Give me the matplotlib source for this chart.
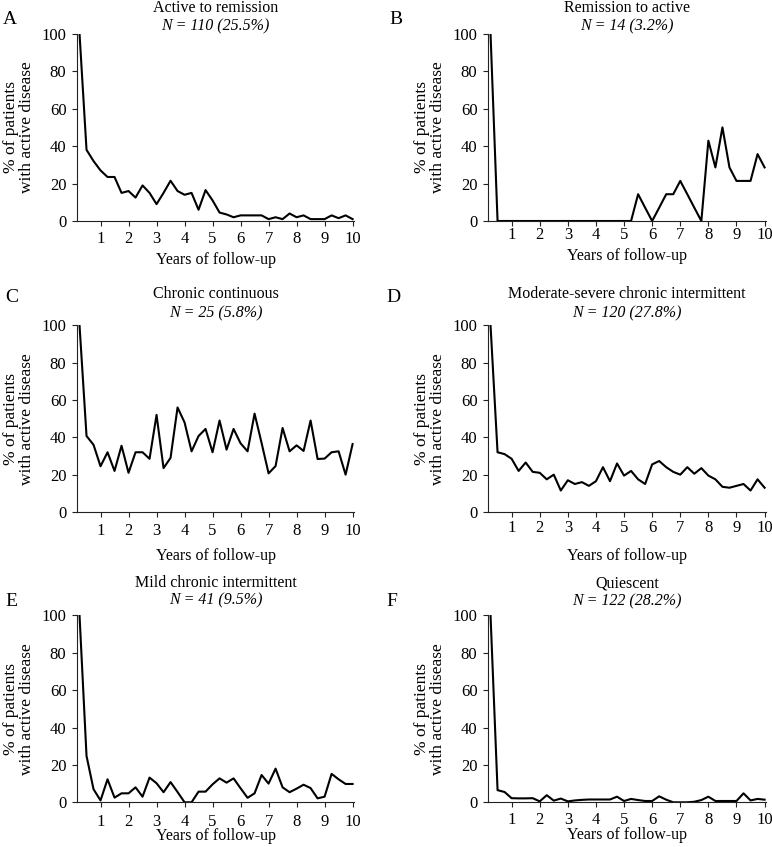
import matplotlib
matplotlib.use('Agg')
import matplotlib.pyplot as plt

plt.rcParams['font.family'] = ['Liberation Serif', 'DejaVu Serif']
plt.rcParams['font.size'] = 11

# follow-up time (years), quarterly visits
years = [0.25, 0.5, 0.75, 1.0, 1.25, 1.5, 1.75, 2.0, 2.25, 2.5,
         2.75, 3.0, 3.25, 3.5, 3.75, 4.0, 4.25, 4.5, 4.75, 5.0,
         5.25, 5.5, 5.75, 6.0, 6.25, 6.5, 6.75, 7.0, 7.25, 7.5,
         7.75, 8.0, 8.25, 8.5, 8.75, 9.0, 9.25, 9.5, 9.75, 10.0]

# % of patients with active disease, per trajectory
active_to_remission = [100, 38, 32, 27, 23.5, 23.5, 15, 16, 12.5, 19,
                       15, 9, 15, 21.5, 16, 14, 15, 6, 16.5, 11,
                       4.5, 3.5, 2, 3, 3, 3, 3, 1, 2, 1,
                       4, 2, 3, 1, 1, 1, 3, 1.5, 3, 1]
remission_to_active = [100, 0, 0, 0, 0, 0, 0, 0, 0, 0,
                       0, 0, 0, 0, 0, 0, 0, 0, 0, 0,
                       0, 14.3, 7.1, 0, 7.1, 14.3, 14.3, 21.4, 14.3, 7.1,
                       0, 42.9, 28.6, 50, 28.6, 21.4, 21.4, 21.4, 35.7, 28.6]
chronic_continuous = [100, 40.7, 36, 24.5, 32, 22, 35.5, 21, 32, 32,
                      28.5, 52, 23.5, 29, 56, 48, 32.5, 40.7, 44.5, 32,
                      49, 33.4, 44.5, 36.8, 32.5, 52.7, 37, 20.7, 24.6, 45,
                      32.5, 35.7, 32.7, 49, 28.4, 28.6, 32, 32.5, 20, 36.4]
moderate_severe = [100, 32, 31, 28.5, 22, 26.5, 21.5, 21, 17.5, 20,
                   11.5, 17, 15, 16, 14, 16.5, 24, 16.5, 26, 19.5,
                   22, 17.5, 15, 25.5, 27.3, 24, 21.5, 20, 24, 20.5,
                   23.5, 19.5, 17.5, 13.5, 13, 14, 15, 11.5, 17.5, 13]
mild_chronic = [100, 24.8, 7, 1, 12.3, 2.5, 4.8, 4.8, 8, 3,
                13.2, 10.2, 5.4, 10.8, 5.5, 0, 0, 5.7, 5.7, 9.6,
                12.8, 10.5, 12.8, 7.5, 2.4, 4.8, 14.6, 10, 18, 8,
                5.4, 7.3, 9.4, 7.6, 2.1, 3, 15.2, 12.3, 9.8, 9.8]
quiescent = [100, 6.5, 5.5, 2.2, 2.1, 2.1, 2.2, 0.5, 3.8, 0.9,
             2.0, 0.5, 1.0, 1.3, 1.5, 1.5, 1.5, 1.5, 3.0, 0.7,
             1.8, 1.2, 0.7, 0.7, 3.2, 1.4, 0, 0, 0, 0.3,
             1.2, 3.0, 0.7, 0.7, 0.7, 0.7, 4.8, 1.0, 1.8, 1.4]

series = [active_to_remission, remission_to_active, chronic_continuous,
          moderate_severe, mild_chronic, quiescent]
letters = ['A', 'B', 'C', 'D', 'E', 'F']
titles = ['Active to remission', 'Remission to active', 'Chronic continuous',
          'Moderate-severe chronic intermittent', 'Mild chronic intermittent',
          'Quiescent']
n_labels = ['N = 110 (25.5%)', 'N = 14 (3.2%)', 'N = 25 (5.8%)',
            'N = 120 (27.8%)', 'N = 41 (9.5%)', 'N = 122 (28.2%)']

W, H = 772, 847
# axes boxes in pixels: left, top, width, height
boxes = [(77, 33.7, 277, 187.3), (488, 33.7, 278, 187.3),
         (77, 325.3, 277, 186.7), (488, 325.3, 278, 186.7),
         (77, 615.3, 277, 187), (488, 615.3, 278, 187)]
title_off = [(25.7, 7.7), (25.7, 7.7), (31.3, 12.3),
             (31.3, 12.3), (32.3, 15.3), (32.3, 14.3)]
tick_pad = [3.5, 1, 4.5, 2.5, 4.5, 3.5]
xlabel_off = [39, 35, 44, 44, 34, 33]
letter_pos = [(3, 19), (389, 19), (5, 297), (386, 297), (5, 601), (386, 601)]

fig = plt.figure(figsize=(W / 100, H / 100), dpi=100)

for i, vals in enumerate(series):
    l, t, w, h = boxes[i]
    ax = fig.add_axes([l / W, 1 - (t + h) / H, w / W, h / H])
    ax.plot(years, vals, color='black', lw=1.5)
    ax.set_xlim(0.16, 10.05)
    ax.set_ylim(0, 100)
    ax.set_xticks(range(1, 11))
    ax.set_yticks(range(0, 101, 20))
    ax.spines['top'].set_visible(False)
    ax.spines['right'].set_visible(False)
    for s in ['left', 'bottom']:
        ax.spines[s].set_linewidth(0.8)
        ax.spines[s].set_color('#222222')
    ax.tick_params(direction='out', length=3.6, width=0.8, color='#222222',
                   labelsize=12)
    ax.tick_params(axis='x', pad=tick_pad[i])
    ax.tick_params(axis='y', pad=4)

    ax.set_xlabel('Years of follow-up', fontsize=11.5)
    ax.xaxis.set_label_coords(0.5, -xlabel_off[i] / h)
    ax.xaxis.label.set_va('center')
    ax.set_ylabel('% of patients\nwith active disease', fontsize=12.5,
                  linespacing=1.05)
    ax.yaxis.set_label_coords(-58 / w, 0.5)
    ax.yaxis.label.set_va('center')

    o1, o2 = title_off[i]
    ax.text(0.5, 1 + o1 / h, titles[i], transform=ax.transAxes,
            ha='center', va='center', fontsize=11.5)
    ax.text(0.5, 1 + o2 / h, n_labels[i], transform=ax.transAxes,
            ha='center', va='center', style='italic', fontsize=11.5)

    lx, ly = letter_pos[i]
    fig.text(lx / W, 1 - ly / H, letters[i], fontsize=14,
             ha='left', va='center')

fig.savefig('out.png', dpi=100)
